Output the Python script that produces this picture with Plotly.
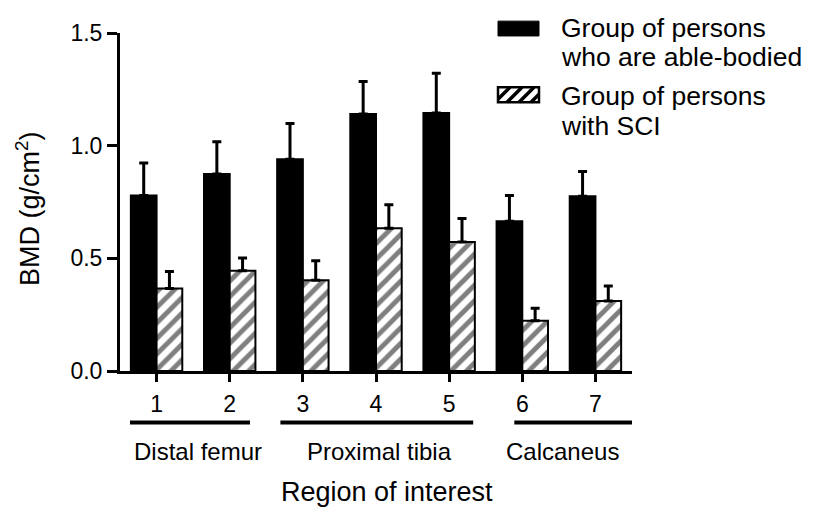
import plotly.graph_objects as go

# ---- data ----
regions = [1, 2, 3, 4, 5, 6, 7]
tick_labels = ["1", "2", "3", "4", "5", "6", "7"]
able_bodied = [0.779, 0.874, 0.940, 1.141, 1.145, 0.665, 0.776]
able_bodied_err = [0.144, 0.143, 0.158, 0.144, 0.176, 0.114, 0.109]
sci = [0.366, 0.445, 0.403, 0.633, 0.573, 0.223, 0.311]
sci_err = [0.076, 0.056, 0.086, 0.105, 0.104, 0.056, 0.066]
group_names = ["Distal femur", "Proximal tibia", "Calcaneus"]
group_spans = [(0.637, 2.277), (2.693, 5.329), (5.891, 7.55)]
group_label_x = [1.560, 4.053, 6.547]
legend_lines = [["Group of persons", "who are able-bodied"],
                ["Group of persons", "with SCI"]]

FONT = "Liberation Sans, Arial, sans-serif"

# page offset of the figure (browser default body margin)
OFF = 8
# plot area in page pixels (for placing decorations)
L, R, T, B = 120, 632, 29, 371
W, H = 819 - OFF, 514 - OFF


def px2x(px):
    return (px - L) / (R - L)


def py2y(py):
    return (B - py) / (B - T)


fig = go.Figure()
fig.add_trace(go.Bar(
    x=regions, y=able_bodied, name="Group of persons who are able-bodied",
    marker=dict(color="black", line=dict(color="black", width=2)),
    error_y=dict(type="data", array=able_bodied_err, arrayminus=[0] * 7,
                 symmetric=False, color="black", thickness=3, width=4.5),
    showlegend=False,
))
fig.add_trace(go.Bar(
    x=regions, y=sci, name="Group of persons with SCI",
    marker=dict(color="white", line=dict(color="black", width=2),
                pattern=dict(shape="/", fgcolor="black", bgcolor="white",
                             size=11, solidity=0.45)),
    error_y=dict(type="data", array=sci_err, arrayminus=[0] * 7,
                 symmetric=False, color="black", thickness=3, width=4.5),
    showlegend=False,
))

shapes = []
annotations = []

# group lines and labels below the axis
for (x0, x1), name, lx in zip(group_spans, group_names, group_label_x):
    shapes.append(dict(type="line", xref="x", yref="paper", x0=x0, x1=x1,
                       y0=py2y(423), y1=py2y(423),
                       line=dict(color="black", width=4)))
    annotations.append(dict(text=name, xref="x", yref="paper", x=lx, y=py2y(452),
                            xanchor="center", yanchor="middle", showarrow=False,
                            font=dict(family=FONT, size=24, color="black")))

# axis titles
annotations.append(dict(text="Region of interest", xref="paper", yref="paper",
                        x=px2x(386.7), y=py2y(493), xanchor="center", yanchor="middle",
                        showarrow=False, font=dict(family=FONT, size=27, color="black")))
annotations.append(dict(text="BMD (g/cm<sup>2</sup>)", xref="paper", yref="paper",
                        x=px2x(28), y=py2y(207), xanchor="center", yanchor="middle",
                        textangle=-90, showarrow=False,
                        font=dict(family=FONT, size=27, color="black")))

# manual legend
sx0, sx1 = 498, 539
shapes.append(dict(type="rect", xref="paper", yref="paper",
                   x0=px2x(sx0), x1=px2x(sx1), y0=py2y(32), y1=py2y(17),
                   fillcolor="black", line=dict(color="black", width=1)))
hy0, hy1 = 84, 99  # top, bottom in px
shapes.append(dict(type="rect", xref="paper", yref="paper",
                   x0=px2x(sx0), x1=px2x(sx1), y0=py2y(hy1), y1=py2y(hy0),
                   fillcolor="white", line=dict(color="black", width=0)))
h = hy1 - hy0
path = ""
c = -h
while c < (sx1 - sx0):
    xs, ys = sx0 + c, hy1
    xe, ye = sx0 + c + h, hy0
    if xs < sx0:
        ys = hy1 - (sx0 - xs)
        xs = sx0
    if xe > sx1:
        ye = hy0 + (xe - sx1)
        xe = sx1
    if xe > xs:
        path += f"M{px2x(xs)},{py2y(ys)} L{px2x(xe)},{py2y(ye)} "
    c += 12
shapes.append(dict(type="path", xref="paper", yref="paper", path=path,
                   line=dict(color="black", width=3.5)))
shapes.append(dict(type="rect", xref="paper", yref="paper",
                   x0=px2x(sx0), x1=px2x(sx1), y0=py2y(hy1), y1=py2y(hy0),
                   fillcolor="rgba(0,0,0,0)", line=dict(color="black", width=2.5)))

legend_line_y = [[23.5, 53], [93, 123]]
for lines, ys in zip(legend_lines, legend_line_y):
    for txt, y in zip(lines, ys):
        annotations.append(dict(text=txt, xref="paper", yref="paper",
                                x=px2x(559), y=py2y(y), xanchor="left", yanchor="middle",
                                showarrow=False,
                                font=dict(family=FONT, size=26.5, color="black")))

fig.update_layout(
    width=W, height=H,
    margin=dict(l=L - OFF, r=819 - R, t=T - OFF, b=514 - B, pad=0),
    paper_bgcolor="white", plot_bgcolor="white",
    barmode="group", bargap=0.297, bargroupgap=0,
    font=dict(family=FONT, color="black"),
    shapes=shapes, annotations=annotations,
    xaxis=dict(range=[0.5, 7.5], tickmode="array", tickvals=regions, ticktext=tick_labels,
               showline=True, linecolor="black", linewidth=3,
               ticks="outside", ticklen=8, tickwidth=3, tickcolor="black",
               ticklabelstandoff=2,
               tickfont=dict(family=FONT, size=23, color="black"),
               showgrid=False, zeroline=False, fixedrange=True),
    yaxis=dict(range=[0, 1.5], tickmode="array", tickvals=[0, 0.5, 1.0, 1.5],
               ticktext=["0.0", "0.5", "1.0", "1.5"],
               showline=True, linecolor="black", linewidth=3,
               ticks="outside", ticklen=10, tickwidth=3, tickcolor="black",
               tickfont=dict(family=FONT, size=23, color="black"),
               showgrid=False, zeroline=False, fixedrange=True),
    showlegend=False,
)

fig.write_html("out.html", config={"displayModeBar": False})
